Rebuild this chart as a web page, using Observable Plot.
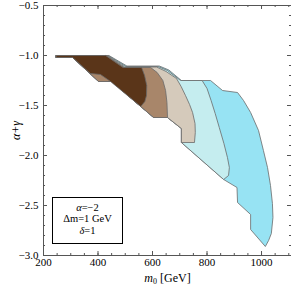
<!DOCTYPE html>
<html>
<head>
<meta charset="utf-8">
<script src="https://cdn.jsdelivr.net/npm/d3@7"></script>
<script src="https://cdn.jsdelivr.net/npm/@observablehq/plot@0.6"></script>
<style>
  html, body { margin: 0; padding: 0; background: #fff; }
  #wrap { position: relative; width: 291px; height: 287px; overflow: hidden; }
  #legend {
    position: absolute; left: 52px; top: 197px; width: 71px; height: 47px;
    box-sizing: border-box; border: 1.5px solid #000; background: #fff;
    font-family: "Liberation Serif", serif; font-size: 10.5px; line-height: 11.5px;
    text-align: center; padding-top: 3.5px; color: #000;
  }
</style>
</head>
<body>
<div id="wrap"><div id="legend"><div><i>α</i>=−2</div><div>Δm=1 GeV</div><div><i>δ</i>=1</div></div></div>
<script>
// Region outlines [m0 (GeV), alpha+gamma]
const darkBrown = [[247,-1.0],[428,-1.0],[492,-1.12],[560,-1.12],[571,-1.20],[579,-1.30],[578,-1.40],[572,-1.46],[557,-1.51],[446,-1.26],[409,-1.19],[372,-1.18],[307,-1.02],[247,-1.02]];
const midBrown = [[247,-1.0],[431,-1.0],[495,-1.12],[593,-1.12],[617,-1.17],[638,-1.25],[648,-1.35],[653,-1.47],[655,-1.62],[604,-1.62],[450,-1.26],[402,-1.26],[307,-1.02],[247,-1.02]];
const beige = [[247,-1.0],[434,-1.0],[498,-1.115],[615,-1.115],[650,-1.16],[688,-1.23],[705,-1.31],[721,-1.40],[736,-1.49],[747,-1.57],[756,-1.68],[757,-1.77],[754,-1.87],[706,-1.87],[706,-1.73],[655,-1.62],[604,-1.62],[450,-1.26],[402,-1.26],[307,-1.02],[247,-1.02]];
const lightCyan = [[247,-1.0],[437,-1.0],[502,-1.11],[620,-1.11],[655,-1.15],[703,-1.25],[782,-1.25],[800,-1.33],[815,-1.45],[830,-1.58],[845,-1.72],[862,-1.88],[875,-2.02],[882,-2.12],[879,-2.20],[861,-2.24],[706,-1.87],[706,-1.73],[655,-1.62],[604,-1.62],[450,-1.26],[402,-1.26],[307,-1.02],[247,-1.02]];
const cyan = [[247,-1.0],[440,-1.0],[506,-1.105],[625,-1.105],[660,-1.145],[706,-1.25],[813,-1.25],[857,-1.35],[912,-1.37],[934,-1.45],[960,-1.57],[989,-1.75],[1007,-1.95],[1022,-2.12],[1033,-2.30],[1040,-2.48],[1042,-2.62],[1036,-2.78],[1026,-2.85],[1014,-2.91],[960,-2.74],[960,-2.59],[912,-2.47],[910,-2.32],[861,-2.24],[706,-1.87],[706,-1.73],[655,-1.62],[604,-1.62],[450,-1.26],[402,-1.26],[307,-1.02],[247,-1.02]];

const layers = [
  {pts: cyan, color: "#97e3f3"},
  {pts: lightCyan, color: "#c5edef"},
  {pts: beige, color: "#d5cabb"},
  {pts: midBrown, color: "#a8866a"},
  {pts: darkBrown, color: "#5a3519"}
];

const xTicks = [200, 400, 600, 800, 1000];
const yTicks = [-3.0, -2.5, -2.0, -1.5, -1.0, -0.5];
const xMinor = d3.range(200, 1101, 50);
const yMinor = d3.range(-30, -4, 1).map(v => v / 10);

const W = 291, H = 287, mL = 43, mR = 0, mT = 5, mB = 32;
const iw = W - mL - mR, ih = H - mT - mB;

const marks = [];
for (const L of layers) {
  marks.push(Plot.line(L.pts, {x: d => d[0], y: d => d[1], fill: L.color, stroke: "#6a6a6a", strokeWidth: 0.8, curve: "linear-closed"}));
}
marks.push(
  Plot.ruleX([200], {stroke: "#555"}),
  Plot.ruleY([-3, -0.5], {stroke: "#555"}),
  // minor ticks
  Plot.tickY(yMinor, {insetRight: iw - 2, stroke: "#555"}),
  Plot.tickY(yMinor, {insetLeft: iw - 2, stroke: "#555"}),
  Plot.tickX(xMinor, {insetTop: ih - 2, stroke: "#555"}),
  Plot.tickX(xMinor, {insetBottom: ih - 2, stroke: "#555"}),
  // major ticks
  Plot.tickY(yTicks, {insetRight: iw - 4, stroke: "#555"}),
  Plot.tickY(yTicks, {insetLeft: iw - 4, stroke: "#555"}),
  Plot.tickX(xTicks, {insetTop: ih - 4, stroke: "#555"}),
  Plot.tickX(xTicks, {insetBottom: ih - 4, stroke: "#555"}),
  Plot.axisY(yTicks, {tickSize: 0, tickPadding: 5, tickFormat: d3.format(".1f"), label: "α+γ", labelAnchor: "center", labelArrow: "none", labelOffset: 32}),
  Plot.axisX(xTicks, {tickSize: 0, tickPadding: 3, tickFormat: d => String(d), label: "m0 [GeV]", labelAnchor: "center", labelArrow: "none", labelOffset: 26})
);

const chart = Plot.plot({
  width: W, height: H,
  marginLeft: mL, marginRight: mR, marginTop: mT, marginBottom: mB,
  x: {domain: [200, 1110]},
  y: {domain: [-3, -0.5]},
  style: {fontFamily: "Liberation Serif, serif", fontSize: "11px", color: "#000", background: "#fff"},
  marks
});

// style the axis labels: italic m with subscript 0
d3.select(chart).selectAll("text").each(function() {
  const t = d3.select(this);
  const s = t.text().replace(/[↑→←↓]/g, "").trim();
  if (s === "m0 [GeV]") {
    t.text(null).style("font-size", "12px");
    t.append("tspan").attr("font-style", "italic").text("m");
    t.append("tspan").attr("font-size", "8px").attr("dy", "2").text("0");
    t.append("tspan").attr("dy", "-2").text(" [GeV]");
  } else if (s === "α+γ") {
    t.text("α+γ").style("font-size", "12px").attr("font-style", "italic");
  }
});

document.getElementById("wrap").prepend(chart);
</script>
</body>
</html>
